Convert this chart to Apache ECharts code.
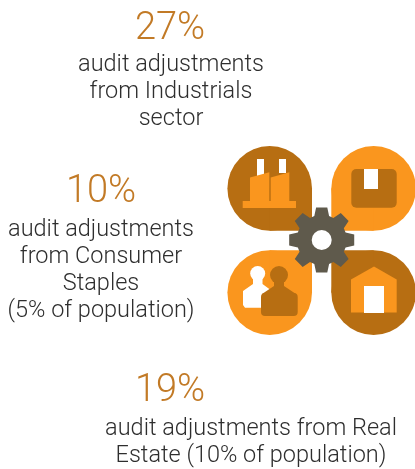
<!DOCTYPE html>
<html>
<head>
<meta charset="utf-8">
<style>
  html, body { margin: 0; padding: 0; background: #fff; }
  #main { width: 415px; height: 469px; }
</style>
<script src="https://cdn.jsdelivr.net/npm/echarts@6/dist/echarts.min.js"></script>
</head>
<body>
<div id="main"></div>
<script>
const percents = ["27%", "10%", "19%"];
const captions = [
  ["audit adjustments", "from Industrials", "sector"],
  ["audit adjustments", "from Consumer", "Staples", "(5% of population)"],
  ["audit adjustments from Real", "Estate (10% of population)"]
];

const DARK = "#b76e12";
const ORANGE = "#fa961e";
const GEAR = "#5f5a4c";
const FONT = "Roboto";

const blocks = [
  { x: 170, pctY: 29.5, capX: 171, capY: 65.5 },
  { x: 101, pctY: 192, capX: 101, capY: 230.5 },
  { x: 170, pctY: 391, capX: 251, capY: 429.5 }
];
const lineH = 26.8;

const graphics = [];

percents.forEach((p, i) => {
  const b = blocks[i];
  graphics.push({
    type: "text", x: b.x, y: b.pctY,
    style: { text: p, font: "300 38px " + FONT, fill: "#c27a26", textAlign: "center", textVerticalAlign: "middle" }
  });
  captions[i].forEach((line, j) => {
    graphics.push({
      type: "text", x: b.capX, y: b.capY + j * lineH,
      style: { text: line, font: "300 23.5px " + FONT, fill: "#2e2e2e", textAlign: "center", textVerticalAlign: "middle" }
    });
  });
});

function rect(x, y, w, h, fill, r) {
  graphics.push({ type: "rect", shape: { x, y, width: w, height: h, r: r || 0 }, style: { fill } });
}
function poly(points, fill) {
  graphics.push({ type: "polygon", shape: { points }, style: { fill } });
}
function circle(cx, cy, r, fill) {
  graphics.push({ type: "circle", shape: { cx, cy, r }, style: { fill } });
}
// circle plus one square quadrant facing the gear
function petal(cx, cy, r, fill, dx, dy) {
  circle(cx, cy, r, fill);
  rect(dx > 0 ? cx : cx - r, dy > 0 ? cy : cy - r, r, r, fill);
}

petal(269.7, 188.4, 42.3, DARK, 1, 1);
petal(373.6, 188.4, 42.3, ORANGE, -1, 1);
petal(269.7, 292.6, 42.3, ORANGE, 1, -1);
petal(373.6, 292.6, 42.3, DARK, -1, -1);

// factory
rect(257, 159, 7, 18, "#fff");
rect(279, 159, 7, 14, "#fff");
poly([[250, 201], [250, 177.5], [269.3, 172.3], [269.3, 201]], ORANGE);
poly([[270.7, 201], [270.7, 177.5], [289.3, 172.3], [289.3, 201]], ORANGE);
rect(242.7, 201, 53.3, 7, ORANGE);

// box
rect(351.3, 169, 45.4, 38.7, DARK, 5);
rect(364, 169, 14, 20, "#fff");

// people
circle(257.7, 273.5, 7.5, "#fff");
poly([[253, 278], [262.5, 278], [262.5, 284], [272, 291], [272, 307.7], [245, 307.7], [243, 305], [243, 291], [253, 284]], "#fff");
circle(279, 275, 9, DARK);
poly([[274, 280], [284, 280], [284, 286], [296, 294], [296, 300], [262, 300], [262, 294], [274, 286]], DARK);
rect(261, 293, 36.7, 23, DARK, 4);

// house
poly([[351, 279.5], [374, 266.5], [396.7, 279.5], [396.7, 312.5], [351, 312.5]], ORANGE);
rect(364, 286, 20, 27, "#fff");

// gear
const gearCx = 321.7, gearCy = 240;
const gearPts = [];
const teeth = 8;
for (let t = 0; t < teeth; t++) {
  const a = (t / teeth) * Math.PI * 2 - Math.PI / 2;
  [[-0.3, 25], [-0.17, 33], [0.17, 33], [0.3, 25]].forEach(([da, r]) => {
    gearPts.push([gearCx + r * Math.cos(a + da), gearCy + r * Math.sin(a + da)]);
  });
}
poly(gearPts, GEAR);
circle(gearCx, gearCy, 10, "#fff");

const chart = echarts.init(document.getElementById("main"), null, { renderer: "canvas" });
chart.setOption({ animation: false, graphic: { elements: graphics } });
</script>
</body>
</html>
